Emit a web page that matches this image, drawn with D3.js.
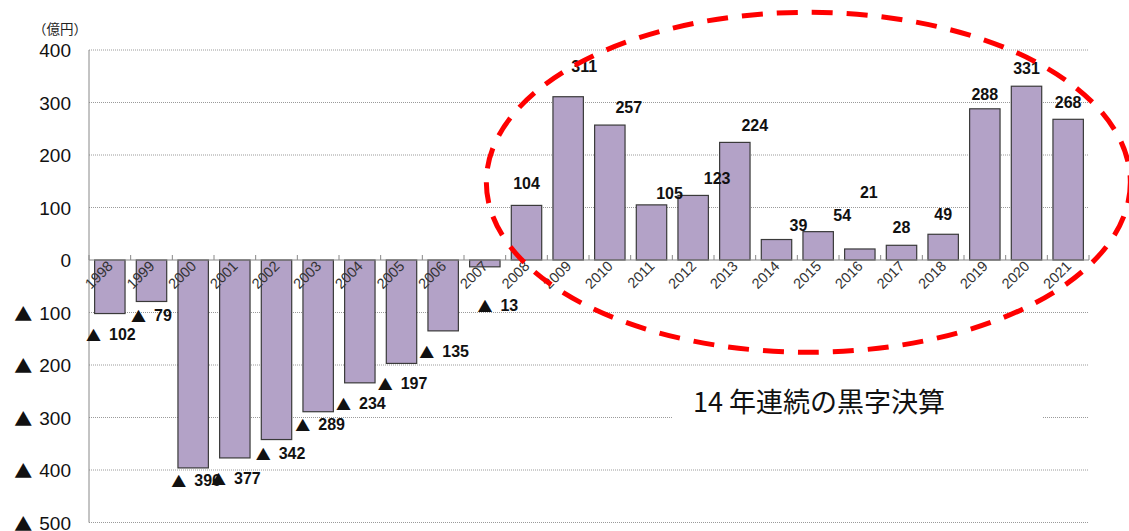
<!DOCTYPE html>
<html>
<head>
<meta charset="utf-8">
<script src="https://cdn.jsdelivr.net/npm/d3@7"></script>
<style>
  body { margin: 0; background: #fff; }
  svg { display: block; }
</style>
</head>
<body>
<div id="chart"></div>
<script>
// data (億円)
const years = ['1998', '1999', '2000', '2001', '2002', '2003', '2004', '2005', '2006', '2007', '2008', '2009',
               '2010', '2011', '2012', '2013', '2014', '2015', '2016', '2017', '2018', '2019', '2020', '2021'];
const profits = [-102, -79, -396, -377, -342, -289, -234, -197, -135, -13, 104, 311,
                 257, 105, 123, 224, 39, 54, 21, 28, 49, 288, 331, 268];
const yTicks = [400, 300, 200, 100, 0, -100, -200, -300, -400, -500];
const unitLabel = '（億円）';
const note = '14 年連続の黒字決算';

// hand-placed label nudges (px) as in the original
const labelNudge = [[1, 20], [0, 14], [3, 12], [1, 20], [4, 13], [2, 12], [1, 20], [1, 20], [1, 20], [13, 38],
                    [0, -22], [16, -31], [19, -18], [18, -12], [24, -17], [20, -17], [22, -15], [24, -17],
                    [9, -57], [0, -18], [0, -20], [0, -15], [0, -18], [0, -17]];

const W = 1129, H = 531;
const plot = {left: 89, right: 1089, top: 50, bottom: 522.5};
const numFont = 'Liberation Sans, Arial, sans-serif';
const cjkFont = 'Noto Sans CJK JP, sans-serif';

const svg = d3.select('#chart').append('svg')
    .attr('width', W)
    .attr('height', H);

const x = d3.scaleBand().domain(years).range([plot.left, plot.right]).paddingInner(0.27).paddingOuter(0.135);
const y = d3.scaleLinear().domain([-500, 400]).range([plot.bottom, plot.top]);

// negative numbers are written with a ▲ in front
const writeValue = (sel, triSize, gap) => sel.each(function(v) {
    const t = d3.select(this);
    if (v < 0) {
        t.append('tspan')
            .attr('font-family', cjkFont)
            .attr('font-size', triSize)
            .text('▲');
        t.append('tspan').attr('dx', gap).text(Math.abs(v));
    } else {
        t.append('tspan').text(v);
    }
});

// grid lines
svg.selectAll('.grid').data(yTicks.filter(t => t !== 0)).enter()
    .append('line')
    .attr('class', 'grid')
    .attr('x1', plot.left)
    .attr('x2', plot.right)
    .attr('y1', d => y(d))
    .attr('y2', d => y(d))
    .attr('stroke', '#9a9a9a')
    .attr('stroke-dasharray', '1,1');

// y tick labels
svg.selectAll('.ylab').data(yTicks).enter()
    .append('text')
    .attr('class', 'ylab')
    .attr('x', 71)
    .attr('y', d => y(d))
    .attr('text-anchor', 'end')
    .attr('dominant-baseline', 'central')
    .attr('font-family', numFont)
    .attr('font-size', 19)
    .attr('fill', '#111')
    .call(writeValue, 18, 7);

svg.append('text')
    .attr('x', 60)
    .attr('y', 28)
    .attr('text-anchor', 'middle')
    .attr('dominant-baseline', 'central')
    .attr('font-family', cjkFont)
    .attr('font-size', 13.5)
    .attr('fill', '#222')
    .text(unitLabel);

// left axis
svg.append('line')
    .attr('x1', plot.left).attr('x2', plot.left)
    .attr('y1', plot.top).attr('y2', plot.bottom)
    .attr('stroke', '#888');

// bars
svg.selectAll('.bar').data(profits).enter()
    .append('rect')
    .attr('class', 'bar')
    .attr('x', (d, i) => x(years[i]))
    .attr('width', x.bandwidth())
    .attr('y', d => y(Math.max(0, d)))
    .attr('height', d => Math.abs(y(d) - y(0)))
    .attr('fill', '#b3a2c7')
    .attr('stroke', '#3a3a3a')
    .attr('stroke-width', 1.2);

// zero line with small ticks
svg.append('line')
    .attr('x1', plot.left).attr('x2', plot.right)
    .attr('y1', y(0)).attr('y2', y(0))
    .attr('stroke', '#888');
const step = x.step();
svg.selectAll('.tick').data(d3.range(years.length + 1)).enter()
    .append('line')
    .attr('class', 'tick')
    .attr('x1', i => plot.left + i * step)
    .attr('x2', i => plot.left + i * step)
    .attr('y1', y(0) - 5)
    .attr('y2', y(0))
    .attr('stroke', '#888');

// year labels
svg.selectAll('.xlab').data(years).enter()
    .append('text')
    .attr('class', 'xlab')
    .attr('transform', d => 'translate(' + (x(d) + x.bandwidth() / 2 + 4) + ',' + (y(0) + 7) + ') rotate(-45)')
    .attr('text-anchor', 'end')
    .attr('font-family', numFont)
    .attr('font-size', 14.5)
    .attr('fill', '#333')
    .text(d => d);

// value labels
svg.selectAll('.vlab').data(profits).enter()
    .append('text')
    .attr('class', 'vlab')
    .attr('x', (d, i) => x(years[i]) + x.bandwidth() / 2 + labelNudge[i][0])
    .attr('y', (d, i) => y(d) + labelNudge[i][1])
    .attr('text-anchor', 'middle')
    .attr('dominant-baseline', 'central')
    .attr('font-family', numFont)
    .attr('font-weight', 'bold')
    .attr('font-size', 16)
    .attr('fill', '#111')
    .call(writeValue, 15, 8);

// note box
svg.append('rect')
    .attr('x', 672)
    .attr('y', y(-200) + 6)
    .attr('width', 370)
    .attr('height', y(-400) - y(-200) - 12)
    .attr('fill', '#fff');
svg.append('text')
    .attr('x', 693)
    .attr('y', 400)
    .attr('dominant-baseline', 'central')
    .attr('font-family', cjkFont)
    .attr('font-size', 27)
    .attr('fill', '#111')
    .text(note);

// red dashed ellipse round the profitable years
svg.append('ellipse')
    .attr('cx', (x('2008') + x('2021') + x.bandwidth()) / 2 + 11)
    .attr('cy', y(148))
    .attr('rx', 322)
    .attr('ry', 170)
    .attr('fill', 'none')
    .attr('stroke', '#ff0000')
    .attr('stroke-width', 5)
    .attr('stroke-dasharray', '21,14');
</script>
</body>
</html>
